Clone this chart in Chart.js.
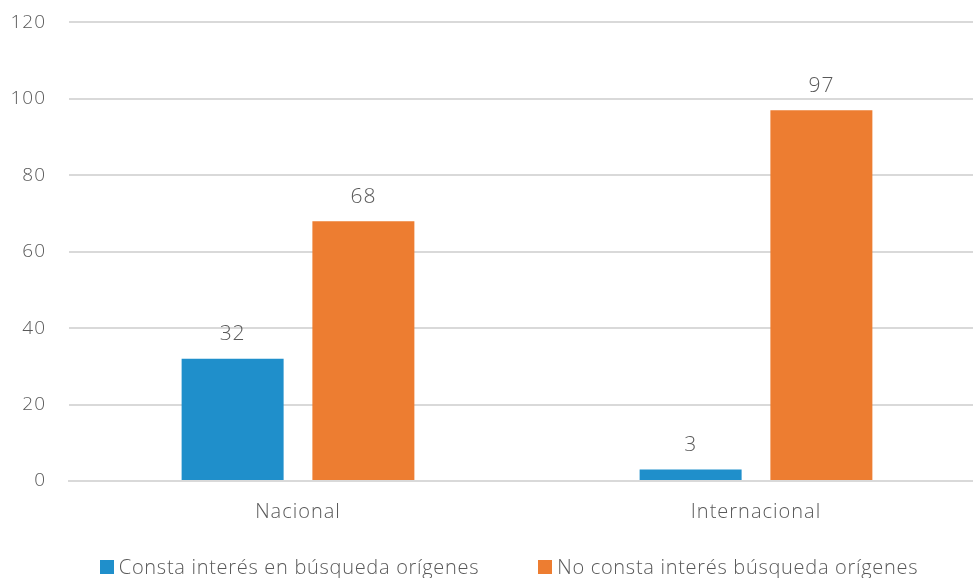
<!DOCTYPE html>
<html>
<head>
<meta charset="utf-8">
<script src="https://cdn.jsdelivr.net/npm/chart.js@4"></script>
<style>
  html, body { margin: 0; padding: 0; background: #fff; overflow: hidden; }
  #wrap { width: 985px; height: 590px; margin-top: -12px; position: relative; }
  #legend {
    position: absolute; left: 0; top: 555px; width: 973px;
    display: flex; justify-content: center; gap: 59px;
    font-family: "Open Sans", "DejaVu Sans", sans-serif; font-weight: 300;
    font-size: 20px; letter-spacing: 0.7px; color: #595959; line-height: 24px;
    padding-left: 45px; box-sizing: border-box;
  }
  #legend span.item { display: flex; align-items: center; white-space: nowrap; }
  #legend span.box { display: inline-block; width: 14px; height: 14px; margin-right: 5px; }
</style>
</head>
<body>
<div id="wrap"><canvas id="chartContainer"></canvas></div>
<div id="legend"></div>
<script>
// chart data
const categories = ["Nacional", "Internacional"];
const seriesNames = ["Consta interés en búsqueda orígenes", "No consta interés búsqueda orígenes"];
const constaValues = [32, 3];
const noConstaValues = [68, 97];
const yTicks = [0, 20, 40, 60, 80, 100, 120];

const blueColor = '#1f8fcb';
const orangeColor = '#ed7d31';
const textColor = '#595959';
const fontFamily = '"Open Sans", "DejaVu Sans", sans-serif';

// slightly spaced letters like the original
const spacing = {
    id: 'spacing',
    beforeDraw(chart) { chart.ctx.letterSpacing = '1px'; }
};

// draw the value above every bar
const valueLabels = {
    id: 'valueLabels',
    afterDatasetsDraw(chart) {
        const ctx = chart.ctx;
        ctx.save();
        ctx.letterSpacing = '1px';
        ctx.font = '300 21px ' + fontFamily;
        ctx.fillStyle = textColor;
        ctx.textAlign = 'center';
        ctx.textBaseline = 'bottom';
        chart.data.datasets.forEach((ds, i) => {
            chart.getDatasetMeta(i).data.forEach((bar, j) => {
                ctx.fillText(ds.data[j], bar.x, bar.y - 14);
            });
        });
        ctx.restore();
    }
};

let chartContainer = document.getElementById("chartContainer");
let chart = new Chart(chartContainer, {
    type: 'bar',
    data: {
        labels: categories,
        datasets: [
            {
                label: seriesNames[0],
                data: constaValues,
                backgroundColor: blueColor,
                barPercentage: 0.78,
                categoryPercentage: 0.571
            },
            {
                label: seriesNames[1],
                data: noConstaValues,
                backgroundColor: orangeColor,
                barPercentage: 0.78,
                categoryPercentage: 0.571
            }
        ]
    },
    options: {
        responsive: true,
        maintainAspectRatio: false,
        animation: false,
        layout: { padding: { top: 0, left: 0, right: 0, bottom: 40 } },
        plugins: {
            tooltip: { enabled: false },
            legend: { display: false }
        },
        scales: {
            x: {
                grid: { display: false },
                border: { color: '#d9d9d9', width: 2 },
                ticks: {
                    color: textColor,
                    font: { family: fontFamily, size: 20, weight: '300' },
                    padding: 11
                },
                afterFit(scale) { scale.height = 57; }
            },
            y: {
                min: 0,
                max: 120,
                afterBuildTicks(scale) { scale.ticks = yTicks.map(v => ({ value: v })); },
                grid: { color: '#d9d9d9', lineWidth: 2, drawTicks: false },
                border: { display: false },
                ticks: {
                    color: textColor,
                    font: { family: fontFamily, size: 19, weight: '300' },
                    padding: 23
                },
                afterFit(scale) { scale.width = 69; }
            }
        }
    },
    plugins: [spacing, valueLabels]
});

// legend as plain text under the chart
let legend = document.getElementById("legend");
chart.data.datasets.forEach(ds => {
    let item = document.createElement("span");
    item.className = "item";
    let box = document.createElement("span");
    box.className = "box";
    box.style.background = ds.backgroundColor;
    item.appendChild(box);
    item.appendChild(document.createTextNode(ds.label));
    legend.appendChild(item);
});
</script>
</body>
</html>
